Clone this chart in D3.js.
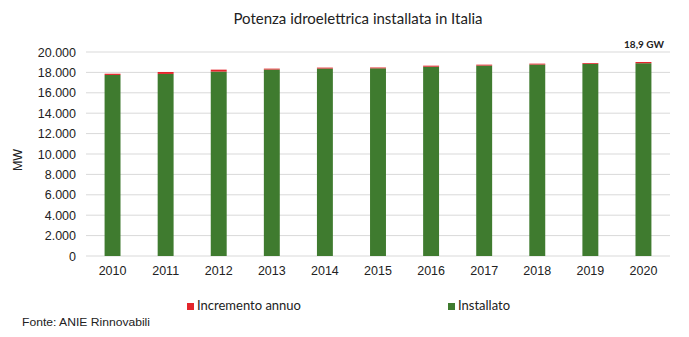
<!DOCTYPE html>
<html><head><meta charset="utf-8">
<script src="https://cdn.jsdelivr.net/npm/d3@7"></script>
<style>body{margin:0;background:#fff}svg{display:block}</style>
</head><body>
<svg id="c" width="689" height="337"></svg>
<script>
const years = ["2010","2011","2012","2013","2014","2015","2016","2017","2018","2019","2020"];
const installato = [17750, 17850, 18080, 18280, 18380, 18400, 18560, 18670, 18770, 18840, 18900];
const incremento = [120, 190, 190, 90, 90, 80, 100, 90, 90, 80, 120];
const yTicks = [0,2000,4000,6000,8000,10000,12000,14000,16000,18000,20000];
const seriesNames = ["Incremento annuo","Installato"];
const colors = {"Incremento annuo":"#e3252b","Installato":"#3f7b2f"};
const title = "Potenza idroelettrica installata in Italia";
const annotation = "18,9 GW";
const source = "Fonte: ANIE Rinnovabili";

const svg = d3.select("#c");
const m = {left:86, right:670, top:52, bottom:256};
const x = d3.scaleBand().domain(years).range([m.left, m.right]).paddingInner(0.7).paddingOuter(0.35);
const y = d3.scaleLinear().domain([0,20000]).range([m.bottom, m.top]);
const fmt = d3.formatLocale({decimal:",", thousands:".", grouping:[3], currency:["","€"]}).format(",d");

// gridlines
svg.append("g").selectAll("line").data(yTicks).join("line")
  .attr("x1", m.left).attr("x2", m.right)
  .attr("y1", d=>y(d)).attr("y2", d=>y(d))
  .attr("stroke", "#d9d9d9").attr("stroke-width", 1);

// y axis labels
const ya = svg.append("g").attr("transform", `translate(${m.left-10},0)`)
  .call(d3.axisLeft(y).tickValues(yTicks).tickFormat(fmt).tickSize(0).tickPadding(0));
ya.select(".domain").remove();
ya.selectAll("text").attr("font-family","Liberation Sans, Arial, sans-serif").attr("font-size",12.5).attr("fill","#222");

// x axis labels
const xa = svg.append("g").attr("transform", `translate(0,${m.bottom+8})`)
  .call(d3.axisBottom(x).tickSize(0).tickPadding(0));
xa.select(".domain").remove();
xa.selectAll("text").attr("font-family","Liberation Sans, Arial, sans-serif").attr("font-size",12.5).attr("fill","#222").attr("dy","0.85em");

// stacked bars
const rows = years.map((yr,i)=>({year:yr, "Installato":installato[i], "Incremento annuo":incremento[i]}));
const stack = d3.stack().keys(["Installato","Incremento annuo"])(rows);
svg.append("g").selectAll("g").data(stack).join("g")
  .attr("fill", d=>colors[d.key])
  .selectAll("rect").data(d=>d).join("rect")
  .attr("x", d=>x(d.data.year)).attr("width", x.bandwidth())
  .attr("y", d=>y(d[1])).attr("height", d=>y(d[0])-y(d[1]));

// title
svg.append("text").attr("x", 358).attr("y", 24).attr("text-anchor","middle")
  .attr("font-family","Lato, sans-serif").attr("font-size",15).attr("fill","#222").text(title);

// annotation
svg.append("text").attr("x", 644).attr("y", 48).attr("text-anchor","middle")
  .attr("font-family","Lato, sans-serif").attr("font-weight","bold").attr("font-size",10).attr("fill","#222").text(annotation);

// MW label
svg.append("text").attr("transform","translate(22,160) rotate(-90)").attr("text-anchor","middle")
  .attr("font-family","Liberation Sans, Arial, sans-serif").attr("font-size",12.5).attr("fill","#222").text("MW");

// legend
const legX = {"Incremento annuo":187, "Installato":448};
const leg = svg.append("g").selectAll("g").data(seriesNames).join("g")
  .attr("transform", d=>`translate(${legX[d]},303)`);
leg.append("rect").attr("width",7).attr("height",7).attr("fill", d=>colors[d]);
leg.append("text").attr("x",10).attr("y",7).attr("font-family","Lato, sans-serif").attr("font-size",13).attr("fill","#222").text(d=>d);

// source
svg.append("text").attr("x",22).attr("y",326).attr("font-family","Liberation Sans, Arial, sans-serif")
  .attr("font-size",11).attr("fill","#222").attr("textLength",128).attr("lengthAdjust","spacingAndGlyphs").text(source);
</script>
</body></html>
